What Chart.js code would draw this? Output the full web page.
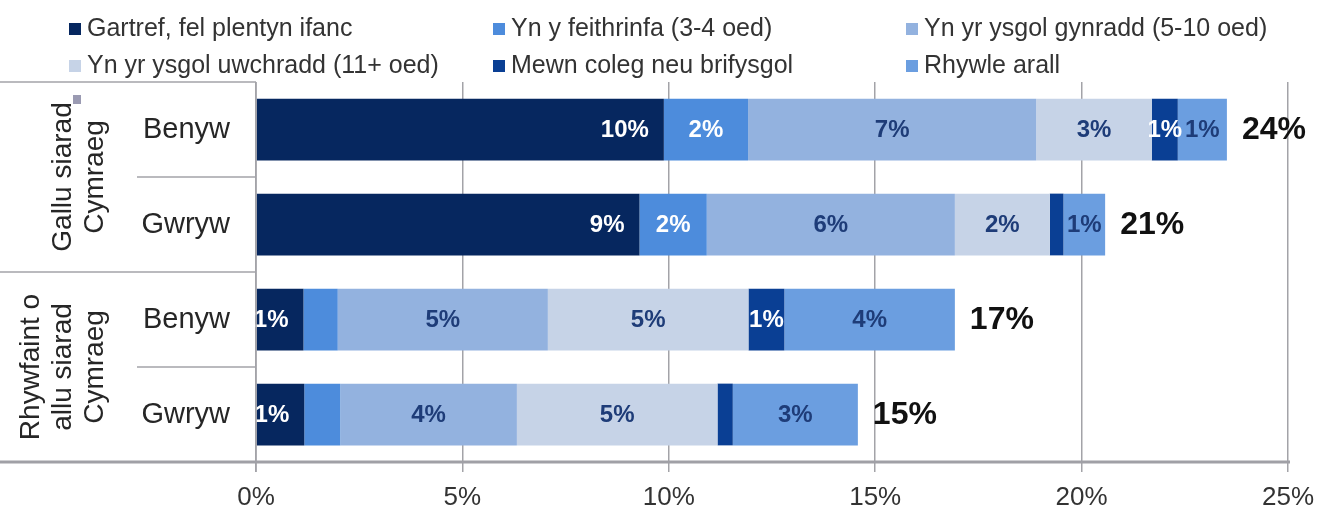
<!DOCTYPE html>
<html>
<head>
<meta charset="utf-8">
<script src="https://cdn.jsdelivr.net/npm/chart.js@4.4.1/dist/chart.umd.min.js"></script>
<style>
html,body{margin:0;padding:0;background:#fff;}
#wrap{width:1318px;height:510px;}
</style>
</head>
<body>
<div id="wrap"><canvas id="c" width="1318" height="510"></canvas></div>
<script>
// ---- data ----
const categories = ['Benyw', 'Gwryw', 'Benyw', 'Gwryw'];
const groupLabels = [['Gallu siarad', 'Cymraeg'], ['Rhywfaint o', 'allu siarad', 'Cymraeg']];
const seriesNames = ['Gartref, fel plentyn ifanc', 'Yn y feithrinfa (3-4 oed)', 'Yn yr ysgol gynradd (5-10 oed)',
                     'Yn yr ysgol uwchradd (11+ oed)', 'Mewn coleg neu brifysgol', 'Rhywle arall'];
const gartref    = [9.88, 9.29, 1.15, 1.17];
const feithrinfa = [2.04, 1.63, 0.83, 0.87];
const gynradd    = [6.98, 6.01, 5.09, 4.28];
const uwchradd   = [2.80, 2.30, 4.86, 4.86];
const coleg      = [0.63, 0.33, 0.87, 0.37];
const arall      = [1.19, 1.01, 4.13, 3.03];
const gartrefLabels    = ['10%', '9%', '1%', '1%'];
const feithrinfaLabels = ['2%', '2%', '', ''];
const gynraddLabels    = ['7%', '6%', '5%', '4%'];
const uwchraddLabels   = ['3%', '2%', '5%', '5%'];
const colegLabels      = ['1%', '', '1%', ''];
const arallLabels      = ['1%', '1%', '4%', '3%'];
const totalLabels      = ['24%', '21%', '17%', '15%'];
const xTickValues = [0, 5, 10, 15, 20, 25];

// ---- styles ----
const colors = ['#06275f', '#4d8cdc', '#93b2df', '#c6d3e7', '#0a3f94', '#6b9ee0'];
const labelColors = ['#ffffff', '#ffffff', '#1e3c78', '#1e3c78', '#ffffff', '#1e3c78'];
const FONT = '"Liberation Sans", Arial, sans-serif';

const values = [gartref, feithrinfa, gynradd, uwchradd, coleg, arall];
const segLabels = [gartrefLabels, feithrinfaLabels, gynraddLabels, uwchraddLabels, colegLabels, arallLabels];

const datasets = values.map((v, i) => ({
  label: seriesNames[i],
  data: v,
  backgroundColor: colors[i],
  borderWidth: 0,
  barPercentage: 0.65,
  categoryPercentage: 1.0,
  segLabels: segLabels[i],
  segLabelColor: labelColors[i]
}));

const decoPlugin = {
  id: 'deco',
  afterDraw(chart) {
    const ctx = chart.ctx;
    const ys = chart.scales.y;
    const xs = chart.scales.x;
    const area = chart.chartArea;
    const step = ys.getPixelForValue(1) - ys.getPixelForValue(0);
    ctx.save();
    // table lines
    ctx.strokeStyle = '#a3a3a8';
    ctx.lineWidth = 1.5;
    const line = (x1, y1, x2, y2) => { ctx.beginPath(); ctx.moveTo(x1, y1); ctx.lineTo(x2, y2); ctx.stroke(); };
    line(0, area.top, area.left, area.top);
    line(0, ys.getPixelForValue(1) + step / 2, area.left, ys.getPixelForValue(1) + step / 2);
    line(137, ys.getPixelForValue(0) + step / 2, area.left, ys.getPixelForValue(0) + step / 2);
    line(137, ys.getPixelForValue(2) + step / 2, area.left, ys.getPixelForValue(2) + step / 2);
    // vertical axis line
    line(area.left, area.top, area.left, area.bottom + 10);
    // bottom axis line
    ctx.lineWidth = 3;
    ctx.strokeStyle = '#a0a0a6';
    line(0, area.bottom, xs.getPixelForValue(25) + 2, area.bottom);

    // group labels (rotated)
    ctx.fillStyle = '#262626';
    ctx.font = '28px ' + FONT;
    ctx.textAlign = 'center';
    ctx.textBaseline = 'middle';
    groupLabels.forEach((lines, g) => {
      const cy = ys.getPixelForValue(g * 2) + step / 2;
      const n = lines.length;
      lines.forEach((t, k) => {
        const cx = 95 - (n - 1 - k) * 32;
        ctx.save();
        ctx.translate(cx, cy);
        ctx.rotate(-Math.PI / 2);
        ctx.fillText(t, 0, 0);
        ctx.restore();
      });
    });
    // small artifact square
    ctx.fillStyle = '#9a9ab2';
    ctx.fillRect(73, 95, 8, 9);

    // legend
    ctx.font = '25px ' + FONT;
    ctx.textAlign = 'left';
    ctx.textBaseline = 'middle';
    const colX = [69, 493, 906];
    const rowY = [29, 66];
    chart.data.datasets.forEach((ds, i) => {
      const x = colX[i % 3], y = rowY[Math.floor(i / 3)];
      ctx.fillStyle = ds.backgroundColor;
      ctx.fillRect(x, y - 6, 12, 12);
      ctx.fillStyle = '#333333';
      ctx.fillText(ds.label, x + 18, y);
    });
    ctx.restore();
  },
  afterDatasetsDraw(chart) {
    const ctx = chart.ctx;
    ctx.save();
    ctx.textBaseline = 'middle';
    chart.data.datasets.forEach((ds, di) => {
      const meta = chart.getDatasetMeta(di);
      ctx.font = 'bold 24px ' + FONT;
      ctx.fillStyle = ds.segLabelColor;
      meta.data.forEach((el, j) => {
        const t = ds.segLabels[j];
        if (!t) return;
        const p = el.getProps(['x', 'y', 'base'], true);
        if (di === 0) {
          ctx.textAlign = 'right';
          ctx.fillText(t, p.x - 15, p.y + 1);
        } else {
          ctx.textAlign = 'center';
          ctx.fillText(t, (p.x + p.base) / 2, p.y + 1);
        }
      });
    });
    // totals
    const last = chart.getDatasetMeta(chart.data.datasets.length - 1);
    ctx.font = 'bold 32px ' + FONT;
    ctx.fillStyle = '#111111';
    ctx.textAlign = 'left';
    last.data.forEach((el, j) => {
      const p = el.getProps(['x', 'y'], true);
      ctx.fillText(totalLabels[j], p.x + 15, p.y + 1);
    });
    ctx.restore();
  }
};

new Chart(document.getElementById('c'), {
  type: 'bar',
  data: { labels: categories, datasets },
  options: {
    indexAxis: 'y',
    responsive: false,
    animation: false,
    events: [],
    layout: { padding: { top: 82, right: 0, left: 0, bottom: 0 } },
    plugins: { legend: { display: false }, tooltip: { enabled: false }, title: { display: false } },
    scales: {
      x: {
        stacked: true,
        min: 0, max: 25,
        afterBuildTicks(scale) { scale.ticks = xTickValues.map(v => ({ value: v })); },
        afterFit(scale) { scale.height = 48; scale.paddingRight = 30; scale.paddingLeft = 0; },
        grid: { color: '#a3a3a8', lineWidth: 1.5, drawTicks: true, tickLength: 10, tickColor: '#a3a3a8' },
        border: { display: false },
        ticks: {
          callback: v => v + '%',
          maxRotation: 0, autoSkip: false, padding: 10,
          color: '#333333',
          font: { family: FONT, size: 26 }
        }
      },
      y: {
        stacked: true,
        afterFit(scale) { scale.width = 256; },
        grid: { display: false },
        border: { display: false },
        ticks: {
          padding: 18,
          color: '#262626',
          font: { family: FONT, size: 29 }
        }
      }
    }
  },
  plugins: [decoPlugin]
});
</script>
</body>
</html>
